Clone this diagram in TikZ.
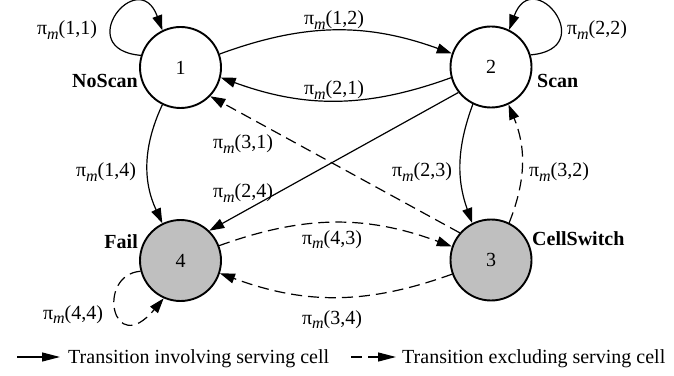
\documentclass[tikz,border=0pt]{standalone}
\usepackage{fontspec}
\setmainfont{Liberation Serif}
\usetikzlibrary{arrows.meta}
\newcommand{\PiM}[1]{π\raisebox{-4.5pt}{\fontsize{16}{16}\selectfont\itshape m}(#1)}
\begin{document}
\begin{tikzpicture}[x=1pt,y=1pt,
  state/.style={circle,draw,line width=1.9pt,minimum size=81pt,inner sep=0pt,font=\fontsize{20}{24}\selectfont},
  grayst/.style={state,fill=gray!50},
  edge/.style={line width=1.2pt,-{Triangle[length=15pt,width=10pt]}},
  dedge/.style={edge,dash pattern=on 11pt off 6pt},
  lbl/.style={font=\fontsize{20}{24}\selectfont,anchor=base,inner sep=0pt},
  sname/.style={font=\fontsize{20}{24}\selectfont\bfseries,inner sep=0pt},
  legtip/.style={line width=1.2pt,-{Triangle[length=18pt,width=9pt]}}]
\useasboundingbox (0,0) rectangle (674,375);
% states
\node[state]  (n1) at (180.5,307.5) {1};
\node[state]  (n2) at (491,308) {2};
\node[grayst] (n3) at (491,115) {3};
\node[grayst] (n4) at (180.5,114.5) {4};
% state names
\node[sname,anchor=base east] (t1) at (138,287) {NoScan};
\node[sname,anchor=base west] (t2) at (537,287) {Scan};
\node[sname,anchor=base west] (t3) at (532,129) {CellSwitch};
\node[sname,anchor=base east] (t4) at (138,127) {Fail};
% edges
\draw[edge] (n1.163) to[out=175,in=110,distance=70pt] (n1.116);
\draw[edge] (n2.17) to[out=5,in=70,distance=70pt] (n2.64);
\draw[dedge] (n4.195) to[out=185,in=230,out distance=45pt,in distance=80pt] (n4.246);
\draw[edge] (n1.19) to[bend left=20] (n2.161);
\draw[edge] (n2.195) to[bend left=20] (n1.-14);
\draw[dedge] (n3.139) -- (n1.-44);
\draw[edge] (n2.218) -- (n4.46);
\draw[edge] (n1.244) to[bend right=25] (n4.116);
\draw[edge] (n2.244) to[bend right=20] (n3.117);
\draw[dedge] (n3.64) to[bend right=22] (n2.-65);
\draw[dedge] (n4.21) to[bend left=20] (n3.161);
\draw[dedge] (n3.200) to[bend left=20] (n4.-18);
% labels
\node[lbl] (l11) at (67,340) {\PiM{1,1}};
\node[lbl] (l22) at (597,340) {\PiM{2,2}};
\node[lbl] (l44) at (73,56) {\PiM{4,4}};
\node[lbl] (l12) at (334,350) {\PiM{1,2}};
\node[lbl] (l21) at (334,280) {\PiM{2,1}};
\node[lbl] (l31) at (243,226) {\PiM{3,1}};
\node[lbl] (l24) at (243,177) {\PiM{2,4}};
\node[lbl] (l14) at (106,198) {\PiM{1,4}};
\node[lbl] (l23) at (422,198) {\PiM{2,3}};
\node[lbl] (l32) at (559,198) {\PiM{3,2}};
\node[lbl] (l43) at (332,131) {\PiM{4,3}};
\node[lbl] (l34) at (332,51) {\PiM{3,4}};
% legend
\coordinate (a0) at (17,18);
\coordinate (a1) at (60,18);
\coordinate (b0) at (351,18);
\coordinate (b1) at (396,18);
\draw[legtip] (a0) -- (a1);
\draw[legtip,dash pattern=on 11pt off 6pt] (b0) -- (b1);
\node[lbl,anchor=base west] (g1) at (68,11.5) {Transition involving serving cell};
\node[lbl,anchor=base west] (g2) at (402,11.5) {Transition excluding serving cell};
\end{tikzpicture}
\end{document}
